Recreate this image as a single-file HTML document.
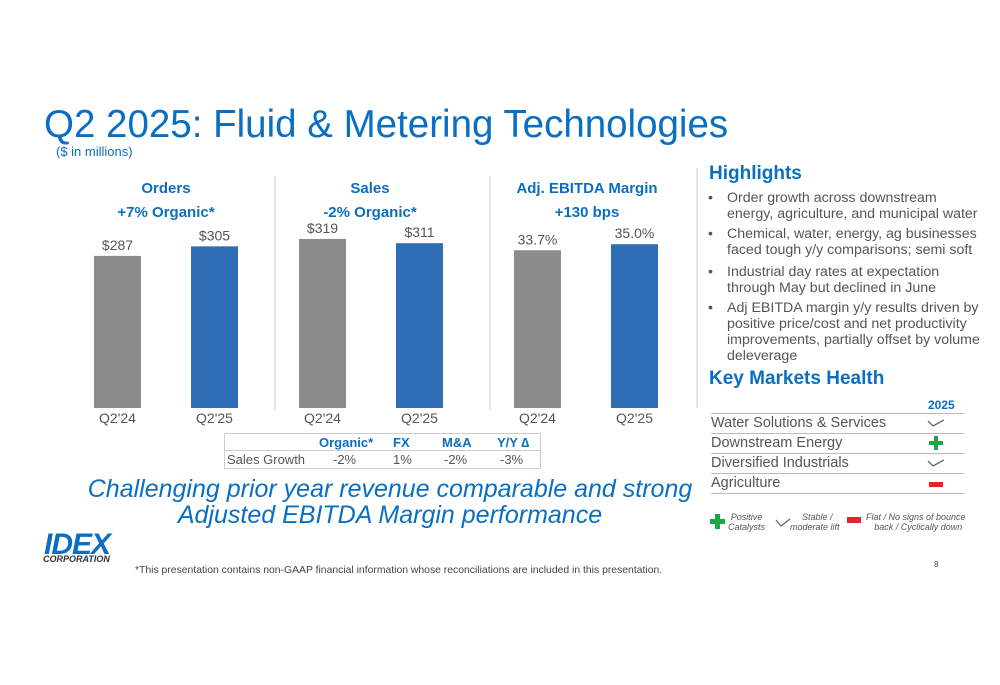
<!DOCTYPE html>
<html><head><meta charset="utf-8"><style>
body{margin:0;width:1000px;height:685px;background:#fff;position:relative;overflow:hidden;font-family:"Liberation Sans",Arial,sans-serif}
.a{position:absolute;white-space:nowrap}
</style></head><body>
<div class="a" style="left:44px;top:103px;font-size:38.5px;color:#0a6fc2">Q2 2025: Fluid &amp; Metering Technologies</div>
<div class="a" style="left:56px;top:144px;font-size:13px;color:#0a6fc2">($ in millions)</div>
<svg id="chart" class="a" style="left:0;top:0" width="700" height="440"></svg>
<div class="a" style="left:224px;top:433px;width:315px;height:34px;border:1px solid #ccc;font-size:13px">
<div style="position:absolute;top:0;left:0;right:0;height:16px;border-bottom:1px solid #ccc;color:#0a6fc2;font-weight:bold">
<span class="a" style="left:94px;top:1px">Organic*</span><span class="a" style="left:168px;top:1px">FX</span><span class="a" style="left:217px;top:1px">M&amp;A</span><span class="a" style="left:272px;top:1px">Y/Y ∆</span></div>
<div style="color:#555"><span class="a" style="left:2px;top:18px">Sales Growth</span><span class="a" style="left:108px;top:18px">-2%</span><span class="a" style="left:168px;top:18px">1%</span><span class="a" style="left:219px;top:18px">-2%</span><span class="a" style="left:275px;top:18px">-3%</span></div>
</div>
<div class="a" style="left:40px;top:476px;width:700px;text-align:center;font-size:25px;font-style:italic;color:#0a6fc2;line-height:26px;white-space:normal">Challenging prior year revenue comparable and strong<br>Adjusted EBITDA Margin performance</div>
<div class="a" style="left:44px;top:530px;font-size:30px;font-weight:900;font-style:italic;color:#0a6fc2;letter-spacing:-1px;line-height:30px">IDEX</div>
<div class="a" style="left:43px;top:554px;font-size:9px;font-weight:bold;font-style:italic;color:#333">CORPORATION</div>
<div class="a" style="left:135px;top:565px;font-size:10.4px;color:#444">*This presentation contains non-GAAP financial information whose reconciliations are included in this presentation.</div>
<div class="a" style="left:934px;top:560px;font-size:8px;color:#444">8</div>
<div class="a" style="left:709px;top:163px;font-size:19px;font-weight:bold;color:#0a6fc2">Highlights</div>
<ul class="a" style="left:708px;top:190px;margin:0;padding:0 0 0 19px;font-size:14.2px;color:#555;line-height:16px;list-style:none">
<li style="position:relative;margin-bottom:4px"><span style="position:absolute;left:-19px">•</span>Order growth across downstream<br>energy, agriculture, and municipal water</li>
<li style="position:relative;margin-bottom:6px"><span style="position:absolute;left:-19px">•</span>Chemical, water, energy, ag businesses<br>faced tough y/y comparisons; semi soft</li>
<li style="position:relative;margin-bottom:4px"><span style="position:absolute;left:-19px">•</span>Industrial day rates at expectation<br>through May but declined in June</li>
<li style="position:relative"><span style="position:absolute;left:-19px">•</span>Adj EBITDA margin y/y results driven by<br>positive price/cost and net productivity<br>improvements, partially offset by volume<br>deleverage</li>
</ul>
<div class="a" style="left:709px;top:368px;font-size:19px;font-weight:bold;color:#0a6fc2">Key Markets Health</div>
<div class="a" style="left:928px;top:398px;font-size:12px;font-weight:bold;color:#0a6fc2">2025</div>
<div class="a" style="left:711px;top:413px;width:253px;font-size:14.5px;color:#555">
<div style="height:18px;border-top:1px solid #bbb;padding-top:1px;position:relative">Water Solutions &amp; Services<svg class="a" style="left:216px;top:5px" width="18" height="8"><polyline points="1,2 6,7 17,1" fill="none" stroke="#666" stroke-width="1.3"/></svg></div>
<div style="height:18px;border-top:1px solid #bbb;padding-top:1px;position:relative">Downstream Energy<svg class="a" style="left:218px;top:2px" width="14" height="14"><path d="M5 0h4v5h5v4h-5v5h-4v-5h-5v-4h5z" fill="#1aa845"/></svg></div>
<div style="height:18px;border-top:1px solid #bbb;padding-top:1px;position:relative">Diversified Industrials<svg class="a" style="left:216px;top:5px" width="18" height="8"><polyline points="1,2 6,7 17,1" fill="none" stroke="#666" stroke-width="1.3"/></svg></div>
<div style="height:18px;border-top:1px solid #bbb;border-bottom:1px solid #bbb;padding-top:1px;position:relative">Agriculture<span class="a" style="left:218px;top:8px;width:14px;height:5px;background:#e8232a"></span></div>
</div>
<div class="a" style="left:708px;top:512px;font-size:9px;font-style:italic;color:#555;line-height:10px">
<svg class="a" style="left:2px;top:2px" width="15" height="15"><path d="M5 0h5v5h5v5h-5v5h-5v-5h-5v-5h5z" fill="#1aa845"/></svg>
<span class="a" style="left:20px;top:0;text-align:center">Positive<br>Catalysts</span>
<svg class="a" style="left:67px;top:6px" width="16" height="9"><polyline points="1,2 6,8 15,1" fill="none" stroke="#666" stroke-width="1.2"/></svg>
<span class="a" style="left:82px;top:0;text-align:center">&nbsp;&nbsp;Stable /<br>moderate lift</span>
<span class="a" style="left:139px;top:5px;width:14px;height:6px;background:#e8232a"></span>
<span class="a" style="left:158px;top:0;text-align:center">Flat / No signs of bounce<br>&nbsp;&nbsp;back / Cyclically down</span>
</div>
<script>
const panelTitles=["Orders","Sales","Adj. EBITDA Margin"];
const panelSubs=["+7% Organic*","-2% Organic*","+130 bps"];
const categories=["Q2'24","Q2'25"];
const ordersValues=[287,305];
const salesValues=[319,311];
const marginValues=[33.7,35.0];
const ordersLabels=["$287","$305"];
const salesLabels=["$319","$311"];
const marginLabels=["33.7%","35.0%"];
const svg=document.getElementById('chart');
const NS='http://www.w3.org/2000/svg';
const base=408;
const dollarY=v=>base-v*0.53;
const pctY=v=>base-v*4.68;
const panels=[{x:94,vals:ordersValues,labs:ordersLabels,y:dollarY,cx:166},{x:299,vals:salesValues,labs:salesLabels,y:dollarY,cx:370},{x:514,vals:marginValues,labs:marginLabels,y:pctY,cx:587}];
function t(x,y,s,o){const e=document.createElementNS(NS,'text');e.setAttribute('x',x);e.setAttribute('y',y);e.setAttribute('text-anchor','middle');e.setAttribute('font-size',o.fs);e.setAttribute('fill',o.c);if(o.b)e.setAttribute('font-weight','bold');e.textContent=s;svg.appendChild(e);return e;}
panels.forEach((p,i)=>{
 const h=t(p.cx,193,panelTitles[i],{fs:15,c:'#0a6fc2',b:1});
 
 
 const s=t(p.cx,217,panelSubs[i],{fs:15,c:'#0a6fc2',b:1});
 
 
 p.vals.forEach((v,j)=>{
  const bx=p.x+j*97,top=p.y(v);
  const r=document.createElementNS(NS,'rect');
  r.setAttribute('x',bx);r.setAttribute('y',top);r.setAttribute('width',47);r.setAttribute('height',base-top);
  r.setAttribute('fill',j==0?'#8c8c8c':'#2f6db5');
  
  
  svg.appendChild(r);
  const l=t(bx+23.5,top-6,p.labs[j],{fs:14,c:'#555'});
  
  
  const c=t(bx+23.5,423,categories[j],{fs:14,c:'#555'});
  
  
 });
});
[275,490,697].forEach((x,i)=>{const l=document.createElementNS(NS,'line');l.setAttribute('x1',x);l.setAttribute('x2',x);l.setAttribute('y1',i==2?168:176);l.setAttribute('y2',i==2?408:410);l.setAttribute('stroke','#ccc');


svg.appendChild(l);});
</script>
</body></html>
